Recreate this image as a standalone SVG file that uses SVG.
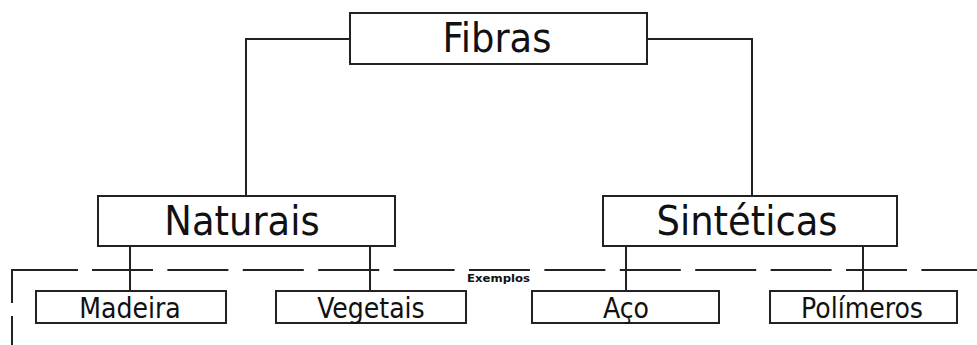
<svg xmlns="http://www.w3.org/2000/svg" width="977" height="345" viewBox="0 0 977 345">
<style>
.box{fill:#fff;stroke:#222;stroke-width:2}
.ln{fill:none;stroke:#222;stroke-width:2}
.dash{fill:none;stroke:#222;stroke-width:2;stroke-dasharray:61 14.4}
.big{font-family:"DejaVu Sans Condensed","DejaVu Sans",sans-serif;font-size:41px;fill:#111;text-anchor:middle}
.sm{font-family:"DejaVu Sans Condensed","DejaVu Sans",sans-serif;font-size:28px;fill:#111;text-anchor:middle}
.tiny{font-family:"DejaVu Sans Condensed","DejaVu Sans",sans-serif;font-size:10px;font-weight:bold;fill:#111}
</style>
<rect width="977" height="345" fill="#fff"/>
<g id="connectors">
<path class="ln" d="M350 39 H246 V196"/>
<path class="ln" d="M647 39 H752 V196"/>
<path class="ln" d="M130 246 V291"/>
<path class="ln" d="M370 246 V291"/>
<path class="ln" d="M626 246 V291"/>
<path class="ln" d="M863 246 V291"/>
</g>
<g id="exemplos-group">
<path class="ln" d="M12 303 V270 H78"/>
<path class="ln" d="M12 316 V345"/>
<path class="dash" d="M92 270 H977"/>
<text class="tiny" x="467" y="282" textLength="63" lengthAdjust="spacingAndGlyphs">Exemplos</text>
</g>
<g id="fibras">
<rect class="box" x="350" y="13" width="297" height="51"/>
<text class="big" x="497" y="52">Fibras</text>
</g>
<g id="naturais">
<rect class="box" x="98" y="196" width="297" height="50"/>
<text class="big" x="242" y="235">Naturais</text>
</g>
<g id="sinteticas">
<rect class="box" x="603" y="196" width="294" height="50"/>
<text class="big" x="747" y="235">Sintéticas</text>
</g>
<g id="madeira">
<rect class="box" x="36" y="291" width="190" height="32"/>
<text class="sm" x="130" y="318">Madeira</text>
</g>
<g id="vegetais">
<rect class="box" x="276" y="291" width="190" height="32"/>
<text class="sm" x="371" y="318">Vegetais</text>
</g>
<g id="aco">
<rect class="box" x="532" y="291" width="187" height="32"/>
<text class="sm" x="626" y="318">Aço</text>
</g>
<g id="polimeros">
<rect class="box" x="770" y="291" width="187" height="32"/>
<text class="sm" x="862" y="318">Polímeros</text>
</g>
</svg>
